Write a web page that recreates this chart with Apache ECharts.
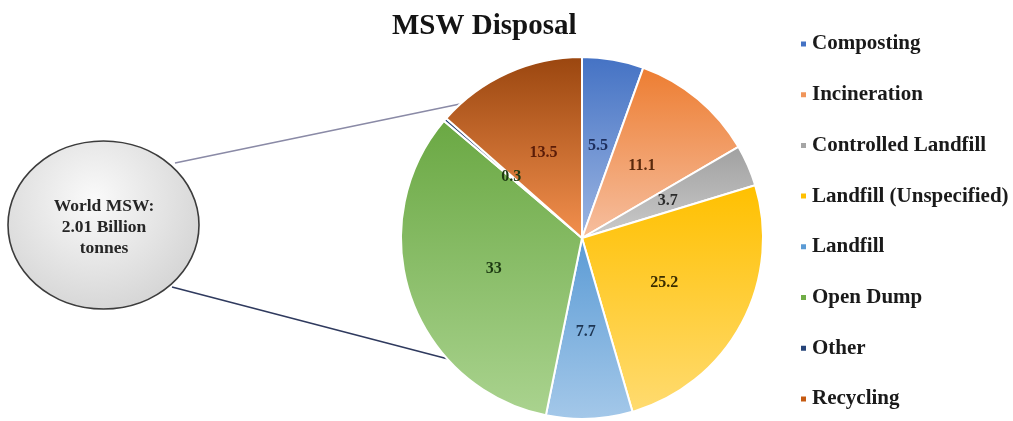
<!DOCTYPE html>
<html>
<head>
<meta charset="utf-8">
<script src="https://cdn.jsdelivr.net/npm/echarts@6/dist/echarts.min.js"></script>
<style>
  html, body { margin: 0; padding: 0; background: #ffffff; }
  #chart { width: 1013px; height: 421px; }
</style>
</head>
<body>
<div id="chart"></div>
<script>
// Share of world municipal solid waste by disposal method (%)
const categories = ['Composting', 'Incineration', 'Controlled Landfill', 'Landfill (Unspecified)', 'Landfill', 'Open Dump', 'Other', 'Recycling'];
const shares = [5.5, 11.1, 3.7, 25.2, 7.7, 33, 0.3, 13.5];

// Per-slice fill: top colour, bottom colour, legend swatch, value-label colour
const topColors = ['#4472C4', '#ED7D31', '#A0A0A0', '#FFC000', '#5B9BD5', '#6AA843', '#264478', '#9A460F'];
const bottomColors = ['#9DB6E2', '#F6BFA0', '#CBCBCB', '#FFDB70', '#A4C8E9', '#AAD38F', '#264478', '#F3904E'];
const swatchColors = ['#4472C4', '#F0955A', '#A5A5A5', '#FFC000', '#5B9BD5', '#70AD47', '#264478', '#C55A11'];
const labelColors = ['#1C2D5C', '#5A2A0C', '#2B2B2B', '#3A2C00', '#1D3552', '#1D3A12', '#1D3A12', '#5A1C08'];

const serif = '"Liberation Serif", "Times New Roman", serif';

const chart = echarts.init(document.getElementById('chart'), null, { renderer: 'canvas' });

const pieData = categories.map((name, i) => ({
  name: name,
  value: shares[i],
  itemStyle: {
    color: new echarts.graphic.LinearGradient(0, 0, 0, 1, [
      { offset: 0, color: topColors[i] },
      { offset: 1, color: bottomColors[i] }
    ])
  },
  label: { color: labelColors[i] }
}));

chart.setOption({
  animation: false,
  backgroundColor: '#ffffff',
  title: {
    text: 'MSW Disposal',
    left: 387,
    top: 7,
    textStyle: { fontFamily: serif, fontWeight: 'bold', fontSize: 29, color: '#141414' }
  },
  legend: {
    orient: 'vertical',
    left: 794,
    top: 28.5,
    itemGap: 29.7,
    itemWidth: 7,
    itemHeight: 7,
    icon: 'rect',
    selectedMode: false,
    textStyle: { fontFamily: serif, fontWeight: 'bold', fontSize: 21, color: '#1a1a1a' },
    data: categories.map((name, i) => ({ name: name, itemStyle: { color: swatchColors[i] } }))
  },
  graphic: [
    {
      type: 'line',
      z: 1,
      shape: { x1: 175, y1: 163, x2: 460, y2: 104 },
      style: { stroke: '#8A8AA6', lineWidth: 1.6 }
    },
    {
      type: 'line',
      z: 1,
      shape: { x1: 172, y1: 287, x2: 452, y2: 360 },
      style: { stroke: '#2F3A5E', lineWidth: 1.6 }
    },
    {
      type: 'ellipse',
      z: 2,
      shape: { cx: 103.5, cy: 225, rx: 95.5, ry: 84 },
      style: {
        fill: new echarts.graphic.RadialGradient(0.45, 0.35, 0.8, [
          { offset: 0, color: '#FAFAFA' },
          { offset: 1, color: '#CFCFCF' }
        ]),
        stroke: '#3C3C3C',
        lineWidth: 1.6
      }
    },
    {
      type: 'text',
      z: 3,
      x: 104,
      y: 196,
      style: {
        text: 'World MSW:\n2.01 Billion\ntonnes',
        align: 'center',
        verticalAlign: 'top',
        lineHeight: 21,
        font: 'bold 17.5px ' + serif,
        fill: '#262626'
      }
    }
  ],
  series: [
    {
      type: 'pie',
      center: [582, 238],
      radius: 181,
      startAngle: 90,
      clockwise: true,
      avoidLabelOverlap: false,
      silent: true,
      itemStyle: { borderColor: '#ffffff', borderWidth: 2 },
      label: {
        show: true,
        position: 'inside',
        formatter: '{c}',
        fontFamily: serif,
        fontWeight: 'bold',
        fontSize: 16
      },
      labelLine: { show: false },
      emphasis: { disabled: true },
      data: pieData
    }
  ]
});
</script>
</body>
</html>
